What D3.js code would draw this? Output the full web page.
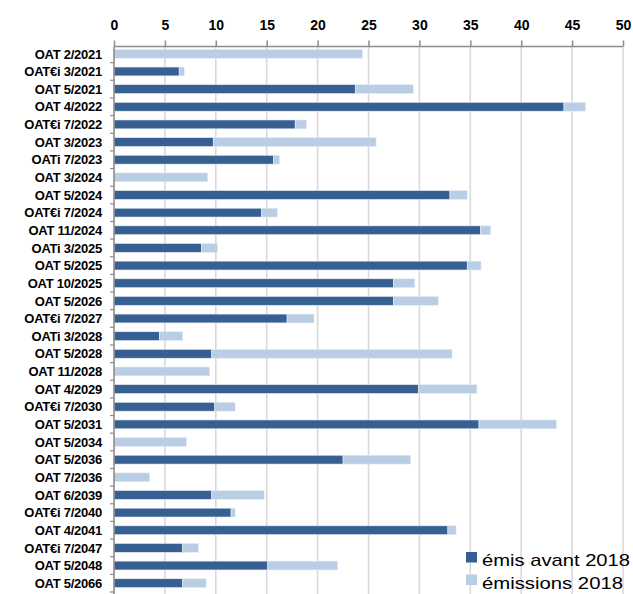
<!DOCTYPE html>
<html>
<head>
<meta charset="utf-8">
<script src="https://cdn.jsdelivr.net/npm/d3@7"></script>
<style>
  html, body { margin: 0; padding: 0; background: #fff; }
  svg { display: block; }
  text { font-family: "Liberation Sans", Arial, sans-serif; }
</style>
</head>
<body>
<svg id="chart" width="633" height="594"></svg>
<script>
// Bond lines (top to bottom)
const categories = [
  "OAT 2/2021", "OAT€i 3/2021", "OAT 5/2021", "OAT 4/2022", "OAT€i 7/2022",
  "OAT 3/2023", "OATi 7/2023", "OAT 3/2024", "OAT 5/2024", "OAT€i 7/2024",
  "OAT 11/2024", "OATi 3/2025", "OAT 5/2025", "OAT 10/2025", "OAT 5/2026",
  "OAT€i 7/2027", "OATi 3/2028", "OAT 5/2028", "OAT 11/2028", "OAT 4/2029",
  "OAT€i 7/2030", "OAT 5/2031", "OAT 5/2034", "OAT 5/2036", "OAT 7/2036",
  "OAT 6/2039", "OAT€i 7/2040", "OAT 4/2041", "OAT€i 7/2047", "OAT 5/2048",
  "OAT 5/2066"
];

// Amounts issued before 2018
const emisAvant2018 = [
  0, 6.4, 23.7, 44.2, 17.8,
  9.75, 15.65, 0, 33.0, 14.5,
  36.0, 8.6, 34.7, 27.45, 27.45,
  17.0, 4.45, 9.6, 0, 29.9,
  9.9, 35.85, 0, 22.5, 0,
  9.6, 11.5, 32.8, 6.75, 15.1,
  6.75
];

// Amounts issued during 2018
const emissions2018 = [
  24.4, 0.5, 5.7, 2.1, 1.1,
  16.0, 0.6, 9.2, 1.7, 1.55,
  1.0, 1.55, 1.35, 2.1, 4.4,
  2.65, 2.3, 23.6, 9.4, 5.75,
  2.0, 7.6, 7.1, 6.65, 3.5,
  5.15, 0.4, 0.8, 1.55, 6.85,
  2.3
];

const xTicks = [0, 5, 10, 15, 20, 25, 30, 35, 40, 45, 50];
const seriesNames = ["émis avant 2018", "émissions 2018"];
const seriesColors = ["#375f91", "#b9cde5"];

const svg = d3.select("#chart");
const plotLeft = 114, plotRight = 623, axisY = 46.5, bandTop = 45, bandBottom = 592;

const rows = categories.map((c, i) => ({
  cat: c, avant: emisAvant2018[i], e2018: emissions2018[i]
}));
const stacked = d3.stack().keys(["avant", "e2018"])(rows);

const x = d3.scaleLinear().domain([0, 50]).range([plotLeft, plotRight]);
const y = d3.scaleBand().domain(categories).range([bandTop, bandBottom])
  .paddingInner(0.5).paddingOuter(0.25);

// vertical gridlines
svg.append("g").selectAll("line").data(xTicks.slice(1)).join("line")
  .attr("x1", d => x(d)).attr("x2", d => x(d))
  .attr("y1", axisY).attr("y2", 594)
  .attr("stroke", "#d9d9d9").attr("stroke-width", 1.6);

// stacked bars
svg.append("g").selectAll("g").data(stacked).join("g")
  .attr("fill", (d, i) => seriesColors[i])
  .selectAll("rect").data(d => d.filter(s => s[1] - s[0] > 0)).join("rect")
  .attr("x", d => x(d[0]))
  .attr("width", d => x(d[1]) - x(d[0]))
  .attr("y", d => y(d.data.cat))
  .attr("height", y.bandwidth())
  .attr("stroke", "#e3ebf5").attr("stroke-width", 0.6);

// top axis
const xAxis = d3.axisTop(x).tickValues(xTicks).tickSize(6).tickPadding(11)
  .tickFormat(d3.format("d"));
const gx = svg.append("g").attr("transform", `translate(0,${axisY})`).call(xAxis);
gx.select(".domain").attr("stroke", "#8c8c8c").attr("stroke-width", 1.6)
  .attr("d", `M${plotLeft},0H${plotRight}`);
gx.selectAll(".tick line").attr("stroke", "#8c8c8c").attr("stroke-width", 1.5);
gx.selectAll(".tick text")
  .attr("fill", "#000")
  .style("font-family", "'Liberation Sans', Arial, sans-serif")
  .style("font-size", "14px").style("font-weight", "bold");

// left axis: line with ticks at band boundaries
const gy = svg.append("g");
gy.append("line").attr("x1", plotLeft).attr("x2", plotLeft)
  .attr("y1", axisY).attr("y2", 594)
  .attr("stroke", "#8c8c8c").attr("stroke-width", 1.6);
const step = y.step();
const boundaries = categories.slice(1).map(c => y(c) - step * y.paddingInner() / 2);
boundaries.push(y(categories[categories.length - 1]) + y.bandwidth() + step * y.paddingInner() / 2);
gy.selectAll("line.b").data(boundaries).join("line").attr("class", "b")
  .attr("x1", plotLeft - 4).attr("x2", plotLeft)
  .attr("y1", d => d).attr("y2", d => d)
  .attr("stroke", "#8c8c8c").attr("stroke-width", 1.2);

gy.selectAll("text").data(categories).join("text")
  .attr("x", 102)
  .attr("y", d => y(d) + y.bandwidth() / 2)
  .attr("dy", "0.36em")
  .attr("text-anchor", "end")
  .style("font-size", "13px").style("font-weight", "bold")
  .style("letter-spacing", "-0.25px")
  .text(d => d);

// legend
const legend = svg.append("g");
seriesNames.forEach((name, i) => {
  const ly = 552 + i * 22.5;
  legend.append("rect").attr("x", 466).attr("y", ly)
    .attr("width", 11).attr("height", 10.5).attr("fill", seriesColors[i]);
  legend.append("text").attr("x", 482).attr("y", ly + 14)
    .style("font-size", "17px")
    .attr("textLength", i === 0 ? 148 : 141)
    .attr("lengthAdjust", "spacingAndGlyphs")
    .text(name);
});
</script>
</body>
</html>
